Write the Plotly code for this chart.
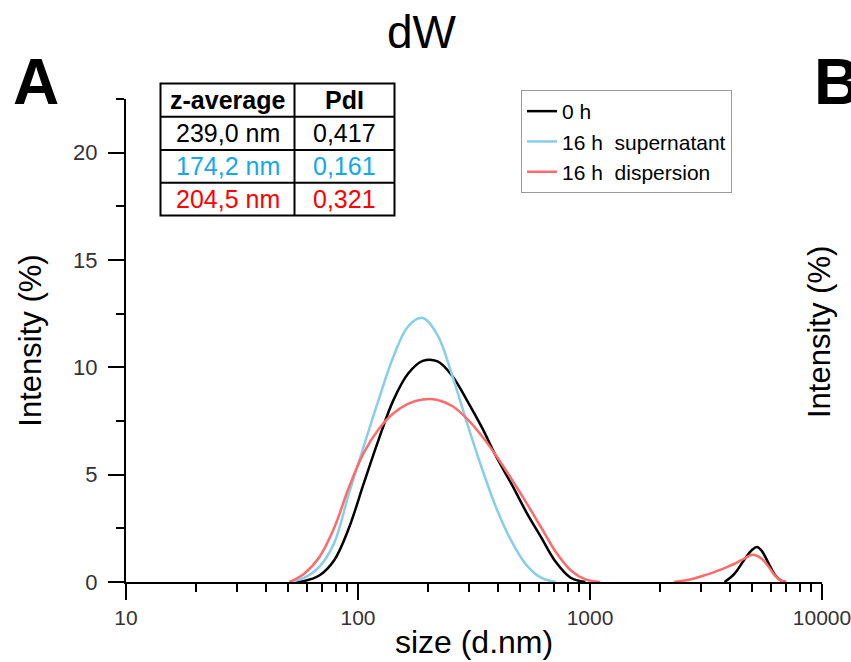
import plotly.graph_objects as go

# ---------------- data ----------------
sizes = [43.82, 50.75, 58.77, 68.06, 78.82, 91.28, 105.7, 122.4, 141.8, 164.2,
         190.1, 220.2, 255.0, 295.3, 342.0, 396.1, 458.7, 531.2, 615.1, 712.4,
         825.0, 955.4, 1106, 1281,
         2300, 2700, 3100, 3600, 3800, 4200, 4600, 5000, 5250, 5500, 5900, 6300, 6700, 7000]

int_0h = [None, 0.0, 0.05, 0.3, 1.0, 2.5, 4.57, 6.6, 8.45, 9.7,
          10.3, 10.28, 9.6, 8.45, 7.2, 5.8, 4.57, 3.26, 2.09, 0.93,
          0.2, 0.0, None, None,
          None, None, None, None, 0.0, 0.39, 1.0, 1.5, 1.63, 1.45, 0.85, 0.3, 0.05, 0.0]

int_16h_sup = [None, 0.0, 0.2, 0.7, 1.8, 4.1, 6.3, 8.45, 10.47, 11.9,
               12.3, 11.5, 9.6, 7.4, 5.3, 3.4, 1.9, 0.8, 0.2, 0.0,
               None, None, None, None,
               None, None, None, None, None, None, None, None, None, None, None, None, None, None]

int_16h_disp = [None, 0.0, 0.4, 1.15, 2.5, 4.4, 6.0, 7.1, 7.85, 8.3,
                8.5, 8.48, 8.2, 7.6, 6.8, 5.85, 4.8, 3.7, 2.55, 1.4,
                0.55, 0.12, 0.0, None,
                0.0, 0.12, 0.3, 0.55, 0.65, 0.85, 1.08, 1.27, 1.22, 1.08, 0.7, 0.27, 0.05, 0.0]

series_names = ["0 h", "16 h\u00a0\u00a0supernatant", "16 h\u00a0\u00a0dispersion"]
series_colors = ["#000000", "#87CEEB", "#FF6B6B"]

table_header = ["z-average", "PdI"]
table_zavg = ["239,0 nm", "174,2 nm", "204,5 nm"]
table_pdi = ["0,417", "0,161", "0,321"]
table_colors = ["#000000", "#12A8EA", "#FF0000"]

x_tickvals = [10, 100, 1000, 10000]
x_ticktext = ["10", "100", "1000", "10000"]
y_tickvals = [0, 5, 10, 15, 20]

# ---------------- layout helpers ----------------
W, H = 851, 662
L, R, T, B = 126, 29, 99, 80
PW, PH = W - L - R, H - T - B


def px(x):
    return (x - L) / PW


def py(y):
    return (H - B - y) / PH


FONT = "Liberation Sans, Arial, Helvetica, sans-serif"

fig = go.Figure()
for vals, name, col in zip([int_0h, int_16h_sup, int_16h_disp], series_names, series_colors):
    fig.add_trace(go.Scatter(x=sizes, y=vals, mode="lines", name=name,
                             line=dict(color=col, width=2.5, shape="spline", smoothing=1.0),
                             connectgaps=False))

fig.update_layout(
    width=W, height=H,
    margin=dict(l=L, r=R, t=T, b=B, autoexpand=False),
    plot_bgcolor="white", paper_bgcolor="white",
    font=dict(family=FONT, color="#000"),
    showlegend=True,
    legend=dict(x=px(521), y=py(90), xanchor="left", yanchor="top",
                bgcolor="white", bordercolor="#9a9a9a", borderwidth=1,
                font=dict(size=21, family=FONT, color="#000"),
                tracegroupgap=0, itemwidth=30),
)

fig.update_xaxes(type="log", range=[1, 4], showline=True, linecolor="black", linewidth=2,
                 showgrid=False, zeroline=False,
                 ticks="outside", ticklen=16, tickwidth=2, tickcolor="black",
                 tickvals=x_tickvals, ticktext=x_ticktext, ticklabeloverflow="allow",
                 tickfont=dict(size=21, color="#333", family=FONT),
                 minor=dict(ticks="outside", ticklen=8, tickwidth=2, tickcolor="black",
                            dtick="D1", showgrid=False),
                 title=dict(text="size (d.nm)", font=dict(size=32, family=FONT, color="#000"),
                            standoff=2))

fig.update_yaxes(range=[0, 22.5], showline=True, linecolor="black", linewidth=2,
                 showgrid=False, zeroline=False,
                 ticks="outside", ticklen=16, tickwidth=2, tickcolor="black",
                 tickvals=y_tickvals, ticklabelstandoff=6,
                 tickfont=dict(size=22, color="#333", family=FONT),
                 minor=dict(ticks="outside", ticklen=8, tickwidth=2, tickcolor="black",
                            dtick=2.5, tick0=0, showgrid=False),
                 title=dict(text="Intensity (%)", font=dict(size=31, family=FONT, color="#000"),
                            standoff=22))

# ---------------- table (z-average / PdI) ----------------
tx0, tx1, tx2 = 160.5, 294.5, 394.5
rows_y = [83.5, 116.7, 150.0, 182.7, 215.5]
shapes = []
shapes.append(dict(type="rect", xref="paper", yref="paper",
                   x0=px(tx0), x1=px(tx2), y0=py(rows_y[-1]), y1=py(rows_y[0]),
                   line=dict(color="black", width=2), fillcolor="white", layer="above"))
shapes.append(dict(type="line", xref="paper", yref="paper",
                   x0=px(tx1), x1=px(tx1), y0=py(rows_y[-1]), y1=py(rows_y[0]),
                   line=dict(color="black", width=2)))
for ry in rows_y[1:-1]:
    shapes.append(dict(type="line", xref="paper", yref="paper",
                       x0=px(tx0), x1=px(tx2), y0=py(ry), y1=py(ry),
                       line=dict(color="black", width=2)))
fig.update_layout(shapes=shapes)

ann = []
c1, c2 = (tx0 + tx1) / 2, (tx1 + tx2) / 2
for i, htxt in enumerate(table_header):
    ann.append(dict(x=px([c1, c2][i]), y=py((rows_y[0] + rows_y[1]) / 2), xref="paper", yref="paper",
                    text="<b>%s</b>" % htxt, showarrow=False, xanchor="center", yanchor="middle",
                    font=dict(size=25, family=FONT, color="#000")))
for r in range(3):
    yc = py((rows_y[r + 1] + rows_y[r + 2]) / 2)
    ann.append(dict(x=px(c1), y=yc, xref="paper", yref="paper", text=table_zavg[r],
                    showarrow=False, xanchor="center", yanchor="middle",
                    font=dict(size=25, family=FONT, color=table_colors[r])))
    ann.append(dict(x=px(c2), y=yc, xref="paper", yref="paper", text=table_pdi[r],
                    showarrow=False, xanchor="center", yanchor="middle",
                    font=dict(size=25, family=FONT, color=table_colors[r])))

# title, panel letters, right-panel axis title
ann.append(dict(x=px(422), y=py(32), xref="paper", yref="paper", text="dW", showarrow=False,
                xanchor="center", yanchor="middle", font=dict(size=46, family=FONT, color="#000")))
ann.append(dict(x=px(11), y=py(82), xref="paper", yref="paper", text="<b>A</b>", showarrow=False,
                xanchor="left", yanchor="middle", font=dict(size=64, family=FONT, color="#000")))
ann.append(dict(x=px(812), y=py(82), xref="paper", yref="paper", text="<b>B</b>", showarrow=False,
                xanchor="left", yanchor="middle", font=dict(size=64, family=FONT, color="#000")))
ann.append(dict(x=px(819), y=py(332), xref="paper", yref="paper", text="Intensity (%)",
                showarrow=False, textangle=-90, xanchor="center", yanchor="middle",
                font=dict(size=31, family=FONT, color="#000")))
fig.update_layout(annotations=ann)

fig.write_html("out.html", config={"displayModeBar": False},
               post_script="document.body.style.margin='0px';")
